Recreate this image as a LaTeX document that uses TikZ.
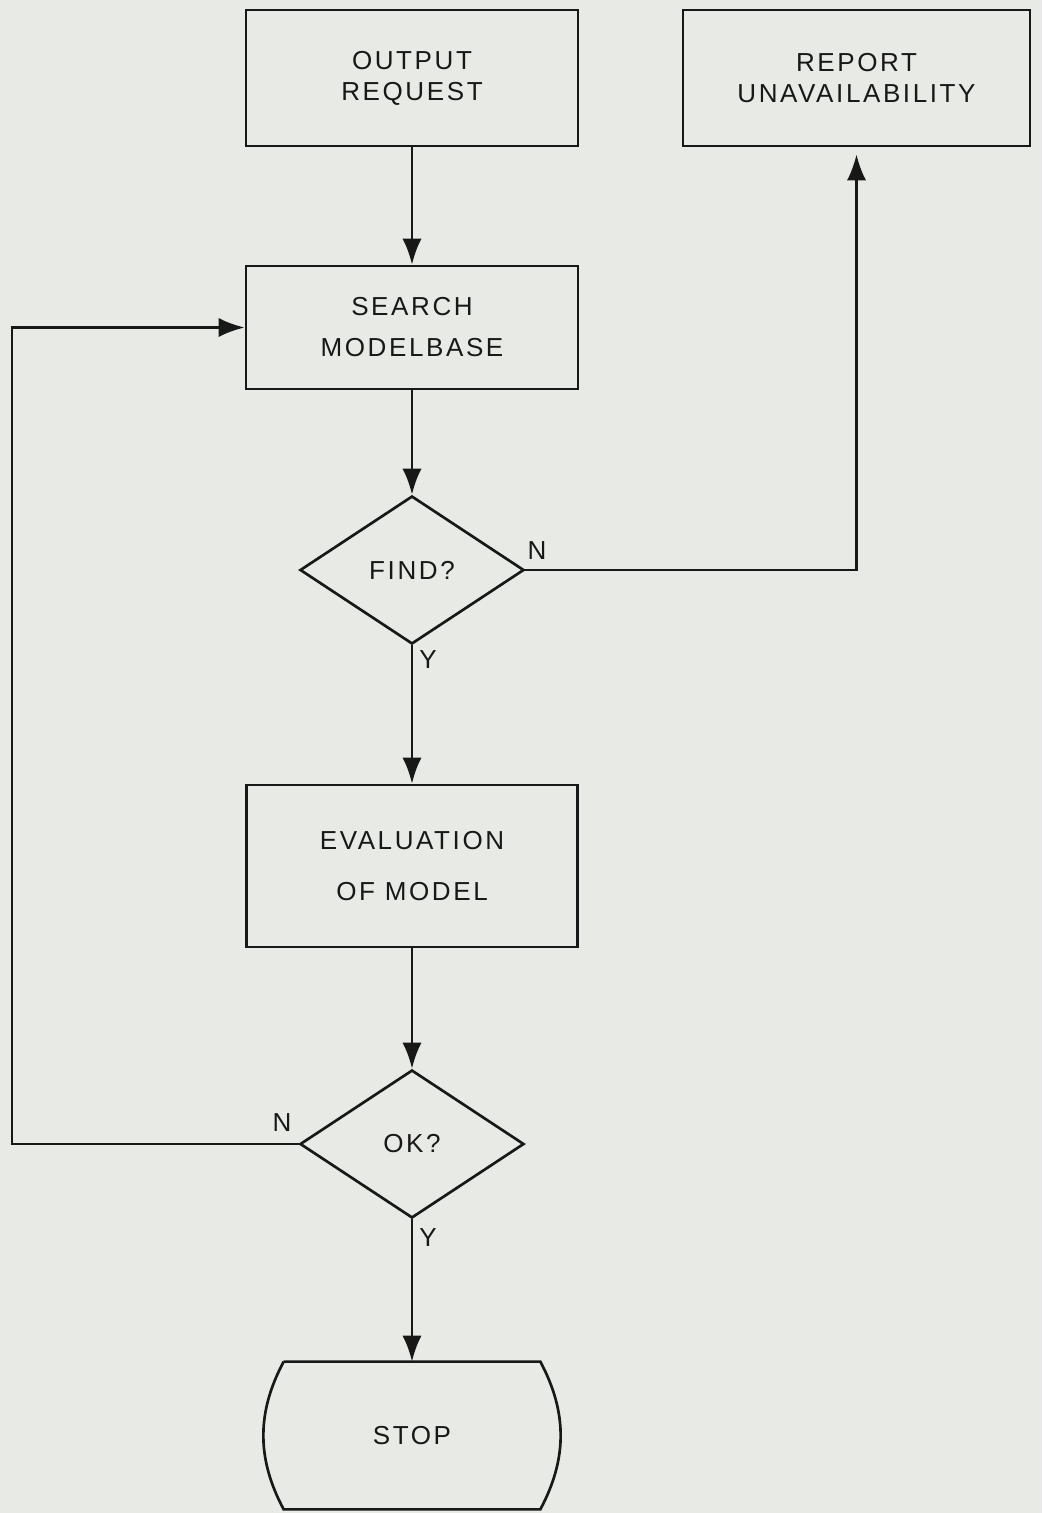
\documentclass[tikz,border=0pt]{standalone}
\usepackage{fontspec}
\setmainfont{Liberation Sans}[LetterSpace=10]
\usepackage{tikz}
\usetikzlibrary{arrows.meta,shapes.geometric}

\definecolor{paper}{RGB}{232,235,229}
\definecolor{ink}{RGB}{24,24,24}

\begin{document}
\begin{tikzpicture}[x=0.025cm,y=-0.025cm,
  font=\fontsize{18.5}{22}\selectfont,
  line width=1.9pt, color=ink,
  box/.style={draw, rectangle, align=center, minimum width=8.3cm},
  decision/.style={draw, diamond, minimum width=5.6cm, minimum height=3.7cm, inner sep=0pt},
  flow/.style={-{Latex[length=0.65cm,width=0.48cm]}},
  lbl/.style={inner sep=0pt}]
% Paper
\fill[paper] (0,0) rectangle (1042,1513);
\useasboundingbox (0,0) rectangle (1042,1513);

% Boxes
\node[box, minimum height=3.4cm] (request) at (412,78) {OUTPUT\\REQUEST};
\node[box, minimum width=8.675cm, minimum height=3.4cm] (report) at (856.5,78) {REPORT\\UNAVAILABILITY};
\node[box, minimum height=3.075cm] (search) at (412,327.5) {SEARCH\\[0.25cm]MODELBASE};
\node[decision] (find) at (412,570) {FIND?};
\node[box, minimum width=8.275cm, minimum height=4.05cm] (evaluation) at (412,866) {EVALUATION\\[0.5cm]OF MODEL};
\node[decision] (ok) at (412,1144) {OK?};
\node[minimum width=6.35cm, minimum height=3.625cm] (stop) at (412,1435.5) {STOP};
\draw (stop.north west) -- (stop.north east) to[bend left=28] (stop.south east)
  -- (stop.south west) to[bend left=28] (stop.north west);

% Connectors
\coordinate (back) at (12,1144);
\draw[flow] (request) -- (search);
\draw[flow] (search) -- (find);
\draw[flow, shorten >=5pt] (find.east) -| (report.south);
\draw[flow] (find) -- (evaluation);
\draw[flow] (evaluation) -- (ok);
\draw[flow] (ok.west) -- (back) |- (search.west);
\draw[flow] (ok) -- (stop);

% Branch labels
\node[lbl] (findno) at (537,551) {N};
\node[lbl] (findyes) at (428,660) {Y};
\node[lbl] (okno) at (282,1123) {N};
\node[lbl] (okyes) at (428,1238) {Y};
\end{tikzpicture}
\end{document}
